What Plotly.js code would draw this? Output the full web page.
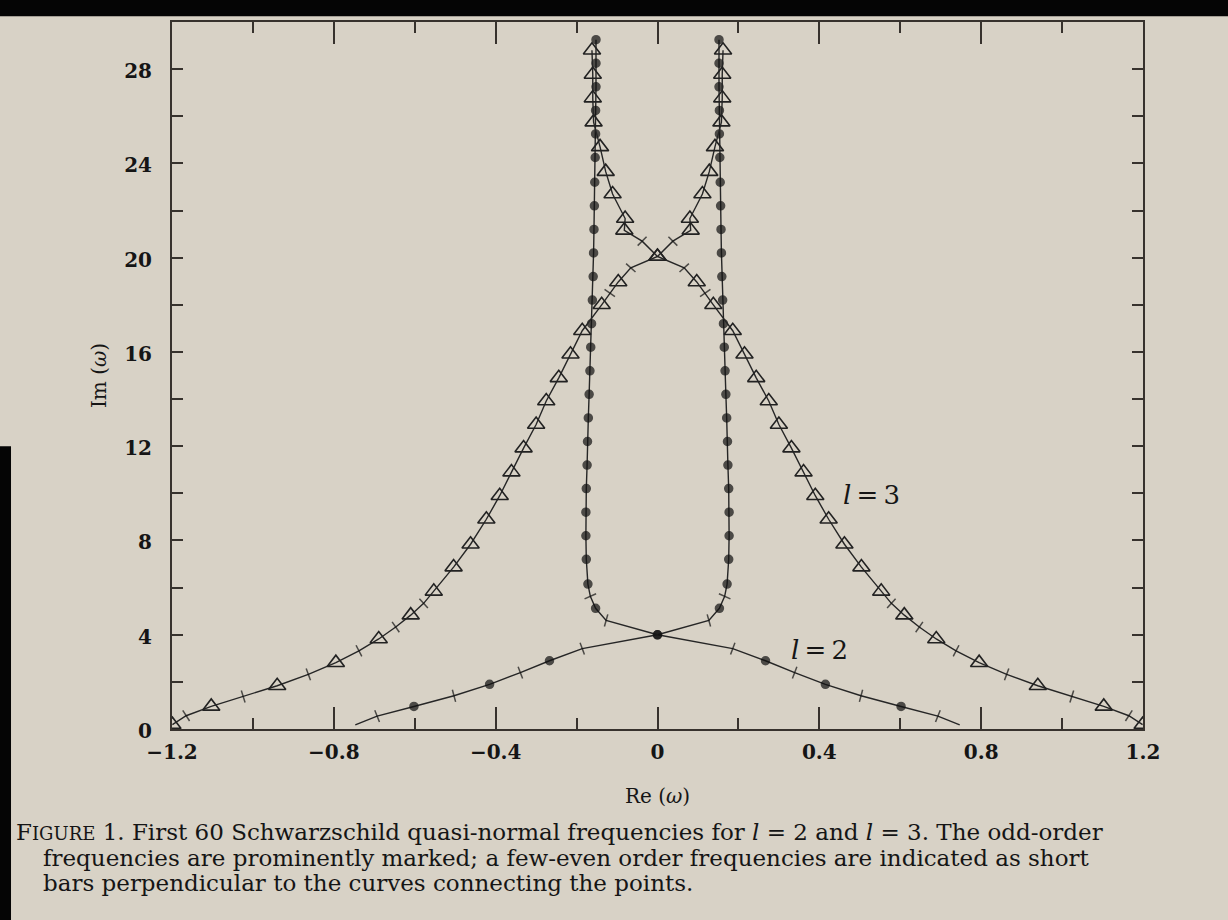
<!DOCTYPE html>
<html>
<head>
<meta charset="utf-8">
<script src="https://cdn.plot.ly/plotly-3.0.1.min.js"></script>
<style>
  html, body { margin: 0; padding: 0; background: #d8d2c6; }
  #chart { width: 1228px; height: 920px; }
</style>
</head>
<body>
<div id="chart"></div>
<script>
// Quasi-normal frequencies (units 2M = 1), branch with Re(omega) >= 0; the figure shows the mirror branch too.
// l = 2 : order number, real part, imaginary part
const l2Order = [1, 2, 3, 4, 5, 6, 7, 8, 9, 10, 11, 12, 13, 15, 17, 19, 21, 23, 25, 27, 29, 31, 33, 35, 37, 39, 41, 43, 45, 47, 49, 51, 53, 55, 57, 59];
const l2Re = [0.747, 0.693, 0.602, 0.503, 0.415, 0.339, 0.267, 0.186, 0.000, 0.127, 0.153, 0.166, 0.172, 0.176, 0.177, 0.177, 0.176, 0.174, 0.173, 0.171, 0.169, 0.167, 0.165, 0.163, 0.161, 0.159, 0.158, 0.157, 0.156, 0.155, 0.154, 0.153, 0.153, 0.152, 0.152, 0.152];
const l2Im = [0.178, 0.548, 0.957, 1.410, 1.894, 2.391, 2.896, 3.408, 3.998, 4.605, 5.122, 5.63, 6.15, 7.2, 8.2, 9.2, 10.2, 11.2, 12.2, 13.2, 14.2, 15.2, 16.2, 17.2, 18.2, 19.2, 20.2, 21.2, 22.2, 23.2, 24.25, 25.25, 26.25, 27.25, 28.25, 29.25];

// l = 3
const l3Order = [1, 2, 3, 4, 5, 6, 7, 8, 9, 10, 11, 12, 13, 15, 17, 19, 21, 23, 25, 27, 29, 31, 33, 35, 37, 38, 39, 40, 41, 42, 43, 45, 47, 49, 51, 53, 55, 57, 59];
const l3Re = [1.199, 1.165, 1.103, 1.024, 0.940, 0.863, 0.795, 0.738, 0.689, 0.647, 0.610, 0.578, 0.553, 0.504, 0.462, 0.423, 0.390, 0.361, 0.331, 0.300, 0.275, 0.244, 0.215, 0.186, 0.138, 0.118, 0.097, 0.066, 0.000, 0.038, 0.082, 0.080, 0.111, 0.128, 0.142, 0.158, 0.160, 0.160, 0.162];
const l3Im = [0.185, 0.563, 0.958, 1.381, 1.836, 2.318, 2.814, 3.316, 3.821, 4.326, 4.83, 5.33, 5.84, 6.87, 7.84, 8.9, 9.9, 10.9, 11.92, 12.92, 13.92, 14.9, 15.9, 16.9, 18.0, 18.5, 18.97, 19.57, 20.05, 20.7, 21.16, 21.66, 22.7, 23.65, 24.7, 25.75, 26.77, 27.77, 28.8];

const curveLabels = ['<i>l</i>\u2009=\u20092', '<i>l</i>\u2009=\u20093'];
const curveLabelX = [0.40, 0.53];
const curveLabelY = [3.36, 9.95];

const captionLines = [
  'F<span style="font-size:18px">IGURE</span> 1. First 60 Schwarzschild quasi-normal frequencies for <i>l</i> = 2 and <i>l</i> = 3. The odd-order',
  'frequencies are prominently marked; a few-even order frequencies are indicated as short',
  'bars perpendicular to the curves connecting the points.'
];

const INK = '#111111';
const traces = [];
const sides = [1, -1];

function addCurve(order, re, im, isL2) {
  sides.forEach(s => {
    traces.push({
      type: 'scatter', mode: 'lines+markers',
      x: re.map(v => s * v), y: im,
      line: { color: '#262626', width: 1.4 },
      marker: {
        symbol: order.map(n => n % 2 === 0 ? 'line-ew' : 'circle'),
        size: order.map(n => n % 2 === 0 ? 9 : (isL2 ? 8 : 0)),
        angleref: 'previous',
        color: INK,
        line: { color: INK, width: 1.5 }
      },
      hoverinfo: 'x+y', showlegend: false
    });
    if (!isL2) {
      const idx = order.map((n, i) => n % 2 === 1 ? i : -1).filter(i => i >= 0);
      traces.push({
        type: 'scatter', mode: 'markers',
        x: idx.map(i => s * re[i]), y: idx.map(i => im[i]),
        marker: { symbol: 'triangle-up-open', size: 15, color: '#222', line: { color: '#222', width: 1.6 } },
        hoverinfo: 'x+y', showlegend: false
      });
    }
  });
}
addCurve(l2Order, l2Re, l2Im, true);
addCurve(l3Order, l3Re, l3Im, false);

const serif = 'DejaVu Serif, Liberation Serif, serif';
const axisCommon = {
  showgrid: false, zeroline: false, showline: true, linecolor: '#37322d', linewidth: 2,
  mirror: 'ticks', ticks: 'inside', tickcolor: '#37322d', tickwidth: 2,
  tickfont: { family: serif, size: 20, color: '#151515', weight: 700 },
  fixedrange: true
};

const captionY = [-0.1459, -0.1827, -0.2181];
const captionX = [-0.1627, -0.1349, -0.1349];

const layout = {
  width: 1228, height: 920,
  paper_bgcolor: '#d8d2c6', plot_bgcolor: '#d8d2c6',
  margin: { l: 172, r: 85, t: 22, b: 191 },
  xaxis: Object.assign({}, axisCommon, {
    range: [-1.2, 1.2], dtick: 0.4, tick0: 0, ticklen: 22, ticklabelstandoff: 4,
    minor: { dtick: 0.2, ticklen: 11, ticks: 'inside', tickcolor: '#37322d', tickwidth: 2 },
    title: { text: 'Re (<i>ω</i>)', font: { family: serif, size: 20, color: '#151515' }, standoff: 26 }
  }),
  yaxis: Object.assign({}, axisCommon, {
    range: [0, 30], dtick: 4, tick0: 0, ticklen: 11, ticklabelstandoff: 14, ticklabelshift: 2,
    minor: { dtick: 2, ticklen: 11, ticks: 'inside', tickcolor: '#37322d', tickwidth: 2 },
    title: { text: 'Im (<i>ω</i>)', font: { family: serif, size: 20, color: '#151515' }, standoff: 12 }
  }),
  annotations: [
    ...curveLabels.map((t, i) => ({
      xref: 'x', yref: 'y', x: curveLabelX[i], y: curveLabelY[i], text: t, showarrow: false,
      font: { family: serif, size: 26, color: '#151515' }
    })),
    ...captionLines.map((t, i) => ({
      xref: 'paper', yref: 'paper', x: captionX[i], y: captionY[i], xanchor: 'left', yanchor: 'middle',
      showarrow: false, text: t, font: { family: serif, size: 23, color: '#151515' }
    }))
  ],
  shapes: [
    { type: 'rect', xref: 'paper', yref: 'paper', x0: -0.2, x1: 1.1, y0: 1.008, y1: 1.05, fillcolor: '#050505', line: { width: 0 }, layer: 'above' },
    { type: 'rect', xref: 'paper', yref: 'paper', x0: -0.19, x1: -0.1658, y0: -0.3, y1: 0.4, fillcolor: '#050505', line: { width: 0 }, layer: 'above' }
  ]
};

Plotly.newPlot('chart', traces, layout, { displayModeBar: false, staticPlot: true });
</script>
</body>
</html>
